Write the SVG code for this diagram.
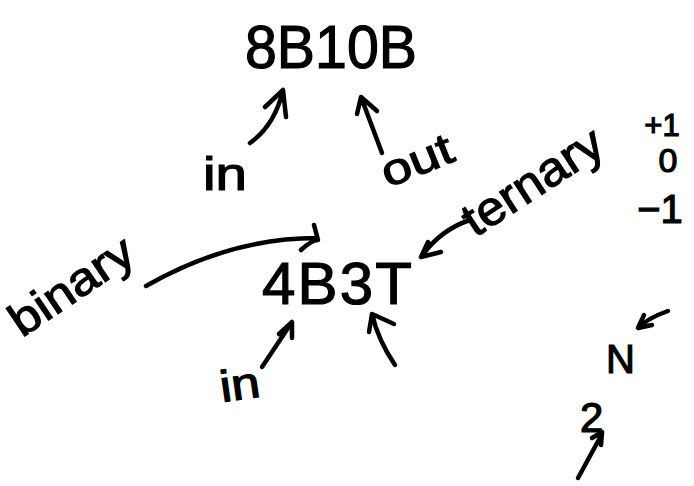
<svg xmlns="http://www.w3.org/2000/svg" width="694" height="486" viewBox="0 0 694 486">
<style>
text{font-family:"Liberation Sans","DejaVu Sans",sans-serif;fill:#000;stroke:#000;stroke-width:1.2;}
.c{fill:none;stroke:#000;stroke-width:4.5;stroke-linecap:round;stroke-linejoin:round;}
</style>
<rect width="694" height="486" fill="#fff"/>
<g id="n8b10b"><text x="245" y="68" font-size="62" textLength="172" lengthAdjust="spacingAndGlyphs">8B10B</text></g>
<g id="n4b3t"><text x="262" y="304" font-size="60" textLength="150" lengthAdjust="spacing">4B3T</text></g>
<g id="lin1"><text x="203" y="190" font-size="46" textLength="44" lengthAdjust="spacingAndGlyphs">in</text></g>
<g id="lout"><text transform="translate(388,188) rotate(-22)" font-size="44" textLength="74" lengthAdjust="spacingAndGlyphs">out</text></g>
<g id="lbinary"><text transform="translate(22,338) rotate(-34)" font-size="46" textLength="140" lengthAdjust="spacingAndGlyphs">binary</text></g>
<g id="lternary"><text transform="translate(475,238) rotate(-33)" font-size="48" textLength="158" lengthAdjust="spacingAndGlyphs">ternary</text></g>
<g id="lin2"><text transform="translate(222,402) rotate(-8)" font-size="44" textLength="40" lengthAdjust="spacingAndGlyphs">in</text></g>
<g id="lvals">
<text x="662" y="136" font-size="31" text-anchor="middle">+1</text>
<text x="668" y="172" font-size="34" text-anchor="middle">0</text>
<text x="660" y="223" font-size="40" text-anchor="middle">−1</text>
</g>
<g id="n2n"><text x="580" y="432" font-size="42">2</text><text x="606" y="373" font-size="40">N</text></g>
<g id="connectors">
<path class="c" d="M250,143 Q275,125 283,90 M265,107 L283,90 L286,117"/>
<path class="c" d="M382,153 L361,97 M357,114 L361,97 L377,111"/>
<path class="c" d="M146,286 Q230,238 317,238 M301,250 Q312,240 318,240 L314,225"/>
<path class="c" d="M470,220 Q440,230 421,257 M428,242 L421,257 L441,252"/>
<path class="c" d="M262,367 L292,322 M279,334 L292,322 L292,338"/>
<path class="c" d="M395,365 Q378,340 372,314 M369,332 L372,314 L394,324"/>
<path class="c" d="M668,311 Q648,318 638,328 M644,315 L638,328 L652,325"/>
<path class="c" d="M578,478 L602,434 M592,438 L602,432 L601,445"/>
</g>
</svg>
